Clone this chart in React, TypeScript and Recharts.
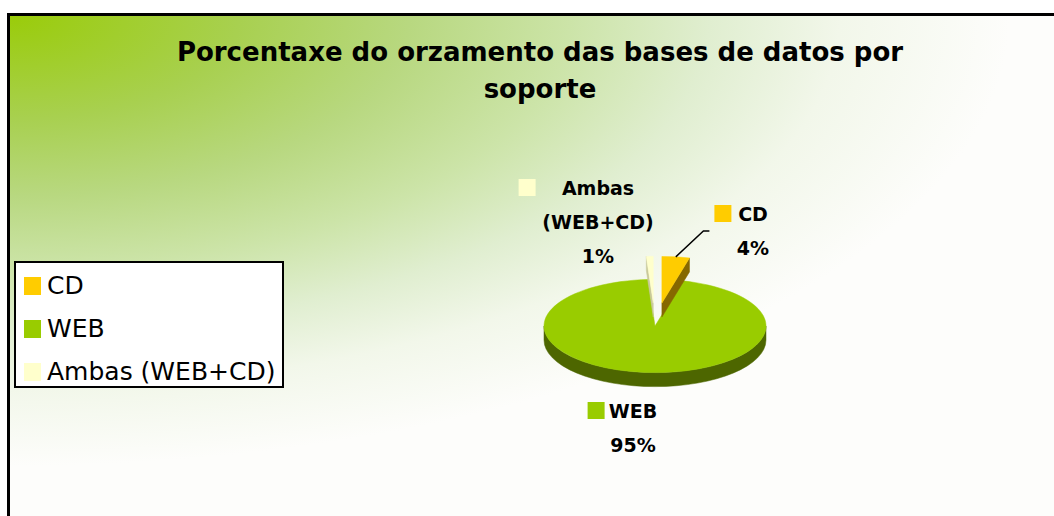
import React from 'react';
import { PieChart, Pie, Legend } from 'recharts';

// categories and shares (percent of the budget)
const categories = ['CD', 'WEB', 'Ambas (WEB+CD)'];
const labelLines = [['CD'], ['WEB'], ['Ambas', '(WEB+CD)']];
const values = [4, 95, 1];
const exploded = [true, false, true];

const faceColors = ['#ffcc00', '#99cc00', '#ffffcc'];
const sideColors = ['#866800', '#4d6600', '#c9c99a'];

// label offsets from pie centre (first line centre), Excel "best fit" layout
const labelLayout = [
    { dx: 98, dy: -112, leader: true },
    { dx: -22, dy: 85, leader: false },
    { dx: -57, dy: -138, leader: false },
];

const total = values.reduce((s, v) => s + v, 0);
// draw WEB first so the exploded slices sit on top of it, start angle keeps CD at 12 o'clock
const drawOrder = [1, 2, 0];
const pieData = drawOrder.map((i) => ({ name: categories[i], value: values[i], idx: i, fill: faceColors[i] }));
const START = 90 - (values[0] / total) * 360;

const RAD = Math.PI / 180;
const K = 0.42;
const DEPTH = 14;
const EXPLODE = 55;

const proj = (ox: number, oy: number, r: number, deg: number) => [ox + r * Math.cos(deg * RAD), oy - r * K * Math.sin(deg * RAD)];

const Slice3D = (props: any) => {
    const { cx, cy, outerRadius, startAngle, endAngle, payload } = props;
    const idx = payload.idx ?? payload.payload?.idx;
    const a0 = Math.min(startAngle, endAngle);
    const a1 = Math.max(startAngle, endAngle);
    const mid = (a0 + a1) / 2;
    const e = exploded[idx] ? EXPLODE : 0;
    const ox = cx + e * Math.cos(mid * RAD);
    const oy = cy - e * K * Math.sin(mid * RAD);
    const R = outerRadius;
    const ry = R * K;
    const side = sideColors[idx];
    const face = faceColors[idx];

    const walls: React.ReactNode[] = [];
    // radial walls facing the viewer
    const radial = (a: number, key: string) => {
        const [px, py] = proj(ox, oy, R, a);
        walls.push(
            <path key={key} d={`M${ox},${oy} L${px},${py} L${px},${py + DEPTH} L${ox},${oy + DEPTH} Z`} fill={side} stroke={side} strokeWidth={0.5} />
        );
    };
    if (Math.cos(a1 * RAD) < -0.001) radial(a1, 'w1');
    if (Math.cos(a0 * RAD) > 0.001) radial(a0, 'w0');
    // outer rim on the front half
    for (let k = -2; k <= 2; k++) {
        const s = Math.max(a0, 180 + 360 * k);
        const t = Math.min(a1, 360 + 360 * k);
        if (t - s > 0.01) {
            const [sx, sy] = proj(ox, oy, R, s);
            const [tx, ty] = proj(ox, oy, R, t);
            walls.push(
                <path
                    key={`r${k}`}
                    d={`M${sx},${sy} A${R},${ry} 0 0 0 ${tx},${ty} L${tx},${ty + DEPTH} A${R},${ry} 0 0 1 ${sx},${sy + DEPTH} Z`}
                    fill={side}
                    stroke={side}
                    strokeWidth={0.5}
                />
            );
        }
    }
    const [p0x, p0y] = proj(ox, oy, R, a0);
    const [p1x, p1y] = proj(ox, oy, R, a1);
    const large = a1 - a0 > 180 ? 1 : 0;
    return (
        <g>
            {walls}
            <path d={`M${ox},${oy} L${p0x},${p0y} A${R},${ry} 0 ${large} 0 ${p1x},${p1y} Z`} fill={face} stroke={face} strokeWidth={0.5} />
        </g>
    );
};

const SliceLabel = (props: any) => {
    const { cx, cy, outerRadius, midAngle, percent, payload } = props;
    const idx = payload.idx ?? payload.payload?.idx;
    const lay = labelLayout[idx];
    const lines = [...labelLines[idx], `${Math.round(percent * 100)}%`];
    const x = cx + lay.dx;
    const y = cy + lay.dy;
    const maxChars = Math.max(...lines.map((l) => l.length));
    const blockLeft = x - maxChars * 6.8;
    let leader = null;
    if (lay.leader) {
        const e = exploded[idx] ? EXPLODE : 0;
        const sx = cx + (e + outerRadius) * Math.cos(midAngle * RAD);
        const sy = cy - (e + outerRadius) * K * Math.sin(midAngle * RAD);
        leader = <polyline points={`${sx},${sy} ${blockLeft - 36},${y + 17} ${blockLeft - 30},${y + 17}`} fill="none" stroke="#000" strokeWidth={1.5} />;
    }
    return (
        <g>
            {leader}
            <rect x={blockLeft - 25} y={y - 9} width={17} height={17} fill={faceColors[idx]} />
            {lines.map((l, i) => (
                <text key={i} x={x} y={y + i * 34} textAnchor="middle" dominantBaseline="central" fontFamily="DejaVu Sans" fontWeight="bold" fontSize={19} fill="#000">
                    {l}
                </text>
            ))}
        </g>
    );
};

const renderLegend = (props: any) => {
    const payload = props.payload || [];
    return (
        <div style={{ width: 270, height: 127, border: '2px solid #000', background: '#fff', boxSizing: 'border-box', paddingTop: 1 }}>
            {categories.map((name, i) => {
                const item = payload.find((p: any) => p.value === name);
                return (
                    <div key={name} style={{ display: 'flex', alignItems: 'center', height: 43, paddingLeft: 8 }}>
                        <span style={{ width: 17, height: 18, background: item?.color ?? faceColors[i], marginRight: 6, display: 'inline-block' }} />
                        <span style={{ fontFamily: 'DejaVu Sans', fontSize: 25, color: '#000', lineHeight: '43px' }}>{name}</span>
                    </div>
                );
            })}
        </div>
    );
};

export default function App() {
    return (
        <div style={{ position: 'fixed', left: 0, top: 0, width: 1054, height: 516, background: '#fff', overflow: 'hidden' }}>
            <div
                style={{
                    position: 'absolute',
                    left: 7,
                    top: 13,
                    width: 1060,
                    height: 515,
                    boxSizing: 'border-box',
                    border: '3px solid #000',
                    background:
                        'radial-gradient(1000px 450px at 0 0, #9acc0a 0%, #a8d050 23%, #b8d880 40%, #cce4a8 56%, #e0eed0 70%, #f2f7ea 83%, #fdfdfb 100%), #fdfdfb',
                }}
            />
            <div
                style={{
                    position: 'absolute',
                    left: 140,
                    top: 34,
                    width: 800,
                    textAlign: 'center',
                    fontFamily: 'DejaVu Sans',
                    fontWeight: 'bold',
                    fontSize: 26,
                    lineHeight: '37px',
                    color: '#000',
                }}
            >
                Porcentaxe do orzamento das bases de datos por
                <br />
                soporte
            </div>
            <div style={{ position: 'absolute', left: 0, top: 0 }}>
                <PieChart width={1054} height={516} margin={{ top: 0, right: 0, bottom: 0, left: 0 }}>
                    <Pie
                        data={pieData}
                        dataKey="value"
                        nameKey="name"
                        cx={655}
                        cy={326}
                        outerRadius={111}
                        startAngle={START}
                        endAngle={START - 360}
                        stroke="none"
                        shape={Slice3D}
                        activeShape={Slice3D}
                        inactiveShape={Slice3D}
                        label={SliceLabel}
                        labelLine={false}
                        isAnimationActive={false}
                    />
                    <Legend content={renderLegend} wrapperStyle={{ left: 14, top: 261, width: 270, height: 127 }} />
                </PieChart>
            </div>
        </div>
    );
}
